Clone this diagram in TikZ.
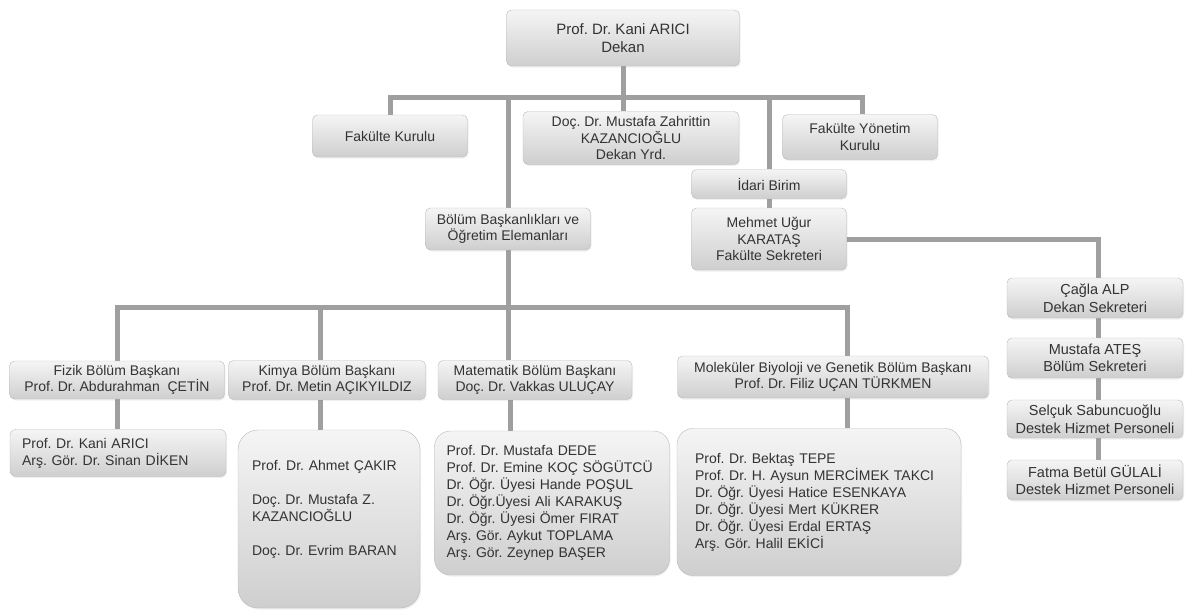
\documentclass[tikz,border=0pt]{standalone}
\usepackage{fontspec}
\setmainfont{Liberation Sans}
\usetikzlibrary{backgrounds,shadows}
\frenchspacing

\tikzset{
  kutu/.style={draw=gray!55, rounded corners=5pt, top color=gray!8, bottom color=gray!38,
    text=black!80, align=center, inner sep=1pt, font=\fontsize{14}{16.5}\selectfont,
    drop shadow={opacity=0.12, shadow xshift=1pt, shadow yshift=-1.5pt}},
  liste/.style={kutu, rounded corners=16pt, align=left, font=\fontsize{14}{17}\selectfont},
  sag/.style={kutu, minimum width=176pt, font=\fontsize{14.5}{17.5}\selectfont},
  hat/.style={draw=gray!75, line width=5pt},
}

\begin{document}
\begin{tikzpicture}[x=1pt, y=-1pt]
\useasboundingbox (0,0) rectangle (1190,610);
% dekanlik
\node[kutu, minimum width=233pt, minimum height=56pt, font=\fontsize{15}{18}\selectfont] (dekan) at (623,38) {Prof. Dr. Kani ARICI\\Dekan};
\node[kutu, minimum width=155pt, minimum height=42pt] (kurulu) at (390,136) {Fakülte Kurulu};
\node[kutu, minimum width=216pt, minimum height=53pt] (yard) at (631,138) {Doç. Dr. Mustafa Zahrittin\\KAZANCIOĞLU\\Dekan Yrd.};
\node[kutu, minimum width=155pt, minimum height=45pt] (yonetim) at (860,137) {Fakülte Yönetim\\Kurulu};
\node[kutu, minimum width=155pt, minimum height=29pt] (idari) at (769,184) {İdari Birim};
\node[kutu, minimum width=165pt, minimum height=42pt] (bolum) at (508,229) {Bölüm Başkanlıkları ve\\Öğretim Elemanları};
\node[kutu, minimum width=155pt, minimum height=62pt] (sekreter) at (769,239) {Mehmet Uğur\\KARATAŞ\\Fakülte Sekreteri};
% sag sutun
\node[sag, minimum height=40pt] (dekansek) at (1095,298) {Çağla ALP\\Dekan Sekreteri};
\node[sag, minimum height=40pt] (bolumsek) at (1095,358) {Mustafa ATEŞ\\Bölüm Sekreteri};
\node[sag, minimum height=38pt] (destek1) at (1095,419) {Selçuk Sabuncuoğlu\\Destek Hizmet Personeli};
\node[sag, minimum height=40pt] (destek2) at (1095,480) {Fatma Betül GÜLALİ\\Destek Hizmet Personeli};
% bolum baskanlari
\node[kutu, minimum width=215pt, minimum height=38pt] (fizik) at (117,380) {Fizik Bölüm Başkanı\\Prof. Dr. Abdurahman\ \ ÇETİN};
\node[kutu, minimum width=197pt, minimum height=39pt] (kimya) at (327,380) {Kimya Bölüm Başkanı\\Prof. Dr. Metin AÇIKYILDIZ};
\node[kutu, minimum width=194pt, minimum height=39pt] (matematik) at (535,380) {Matematik Bölüm Başkanı\\Doç. Dr. Vakkas ULUÇAY};
\node[kutu, minimum width=311pt, minimum height=42pt] (molekuler) at (833,377) {Moleküler Biyoloji ve Genetik Bölüm Başkanı\\Prof. Dr. Filiz UÇAN TÜRKMEN};
% ogretim elemanlari
\node[liste, rounded corners=6pt, inner xsep=12pt, text width=192pt, minimum height=47pt] (fizikuye) at (118,453) {Prof. Dr. Kani ARICI\\Arş. Gör. Dr. Sinan DİKEN};
\node[liste, rounded corners=20pt, inner xsep=14pt, text width=154pt, minimum height=178pt] (kimyauye) at (329,519) {Prof. Dr. Ahmet ÇAKIR\\[17pt]Doç. Dr. Mustafa Z.\\KAZANCIOĞLU\\[17pt]Doç. Dr. Evrim BARAN\\[6pt]\mbox{}};
\node[liste, inner xsep=12pt, text width=211pt, minimum height=144pt] (matuye) at (552,503) {Prof. Dr. Mustafa DEDE\\Prof. Dr. Emine KOÇ SÖGÜTCÜ\\Dr. Öğr. Üyesi Hande POŞUL\\Dr. Öğr.Üyesi Ali KARAKUŞ\\Dr. Öğr. Üyesi Ömer FIRAT\\Arş. Gör. Aykut TOPLAMA\\Arş. Gör. Zeynep BAŞER};
\node[liste, inner xsep=18pt, text width=248pt, minimum height=147pt] (moluye) at (819,502) {Prof. Dr. Bektaş TEPE\\Prof. Dr. H. Aysun MERCİMEK TAKCI\\Dr. Öğr. Üyesi Hatice ESENKAYA\\Dr. Öğr. Üyesi Mert KÜKRER\\Dr. Öğr. Üyesi Erdal ERTAŞ\\Arş. Gör. Halil EKİCİ};
% baglantilar
\begin{scope}[on background layer]
\coordinate (ustbus) at (623,97);
\coordinate (altbus) at (508,307);
\draw[hat] (kurulu.north) |- (ustbus) -| ([xshift=2pt]yonetim.north);
\draw[hat] (dekan.south) -- (dekan.south |- yard.north);
\draw[hat] (bolum.north) -- (bolum.north |- ustbus);
\draw[hat] (idari.north) -- (idari.north |- ustbus);
\draw[hat] (idari.south) -- (sekreter.north);
\draw[hat] (sekreter.east) -| ([xshift=3pt]dekansek.north);
\draw[hat] ([xshift=3pt]dekansek.south) -- ([xshift=3pt]destek2.north);
\draw[hat] (fizik.north) |- (altbus) -| ([xshift=14pt]molekuler.north);
\draw[hat] ([xshift=-7pt]kimya.north) -- ([xshift=-7pt]kimya.north |- altbus);
\draw[hat] (bolum.south) -- (bolum.south |- matematik.north);
\draw[hat] (fizik.south) -- (fizik.south |- fizikuye.north);
\draw[hat] ([xshift=-7pt]kimya.south) -- ([xshift=-7pt]kimya.south |- kimyauye.north);
\draw[hat] ([xshift=-25pt]matematik.south) -- ([xshift=-25pt]matematik.south |- matuye.north);
\draw[hat] ([xshift=14pt]molekuler.south) -- ([xshift=14pt]molekuler.south |- moluye.north);
\end{scope}
\end{tikzpicture}
\end{document}
